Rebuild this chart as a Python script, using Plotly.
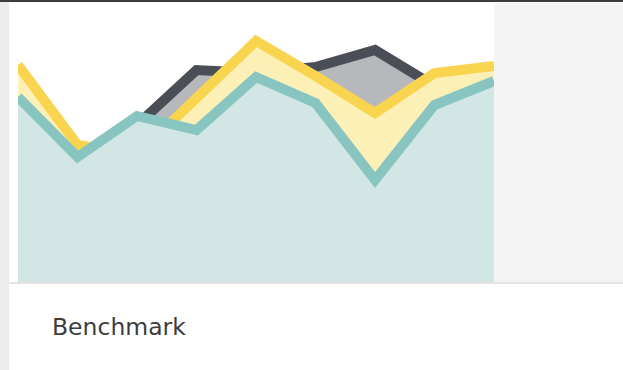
import plotly.graph_objects as go

# ── DATA ────────────────────────────────────────────────────────────────────
POINTS = list(range(9))
SERIES_GRAY = [192, 117, 157, 212, 209, 215, 232, 196, 202]
SERIES_YELLOW = [217, 137, 127, 183, 241, 206, 169, 209, 216]
SERIES_TEAL = [185, 125, 166, 152, 205, 179, 102, 177, 201]
LABEL = "Benchmark"

# ── DESIGN TOKENS ───────────────────────────────────────────────────────────
W, H = 623, 370
GRAY_LINE, GRAY_FILL = "#4a4e56", "#b7b8bc"
YEL_LINE, YEL_FILL = "#f8d44f", "#fdf0b6"
TEAL_LINE, TEAL_FILL = "#88c5c1", "#d2e7e5"
PLOT_L, PLOT_R, PLOT_T, PLOT_B = 18, 494, 3, 282


def px(x):
    return x / W


def py(y):
    return 1 - y / H


fig = go.Figure()
for ys, line, fill in [(SERIES_GRAY, GRAY_LINE, GRAY_FILL),
                       (SERIES_YELLOW, YEL_LINE, YEL_FILL),
                       (SERIES_TEAL, TEAL_LINE, TEAL_FILL)]:
    fig.add_trace(go.Scatter(x=POINTS, y=ys, mode="lines", fill="tozeroy",
                             fillcolor=fill, line=dict(color=line, width=10),
                             hoverinfo="skip", showlegend=False))

shapes = [
    # grey page strip on the left and dark bar on top
    dict(type="rect", xref="paper", yref="paper", x0=0, x1=px(9), y0=0, y1=1,
         fillcolor="#ececec", line_width=0, layer="below"),
    dict(type="rect", xref="paper", yref="paper", x0=0, x1=1, y0=py(2), y1=1,
         fillcolor="#3c3c3c", line_width=0, layer="below"),
    # empty grey panel right of the chart
    dict(type="rect", xref="paper", yref="paper", x0=px(PLOT_R), x1=1,
         y0=py(PLOT_B), y1=py(PLOT_T), fillcolor="#f4f4f4", line_width=0, layer="below"),
    # divider between chart and caption
    dict(type="line", xref="paper", yref="paper", x0=px(9), x1=1,
         y0=py(PLOT_B + 1), y1=py(PLOT_B + 1), line=dict(color="#e4e4e4", width=2)),
]

fig.update_layout(
    width=W, height=H,
    margin=dict(l=0, r=0, t=0, b=0),
    paper_bgcolor="white", plot_bgcolor="white",
    shapes=shapes,
    xaxis=dict(domain=[px(PLOT_L), px(PLOT_R)], range=[0, 8], visible=False, fixedrange=True),
    yaxis=dict(domain=[py(PLOT_B), py(PLOT_T)], range=[0, PLOT_B - PLOT_T],
               visible=False, fixedrange=True),
    annotations=[dict(text=LABEL, xref="paper", yref="paper", x=px(50), y=py(327),
                      xanchor="left", yanchor="middle", showarrow=False,
                      font=dict(family="DejaVu Sans", size=23.5, color="#3d3d3d"))],
)

fig.write_html("out.html", config=dict(displayModeBar=False),
               post_script="document.body.style.margin='0';")
